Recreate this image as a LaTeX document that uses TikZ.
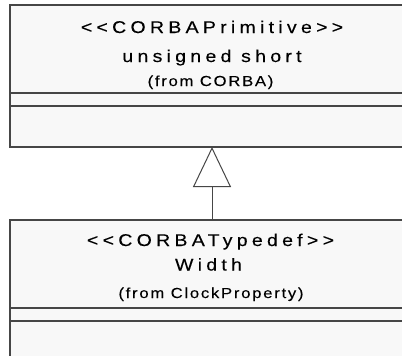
\documentclass[tikz,border=0pt]{standalone}
\usepackage{fontspec}
\setmainfont{Liberation Sans}
\newfontfamily\umlbig[FakeStretch=1.15, FakeBold=0.2, LetterSpace=25]{Liberation Sans}
\newfontfamily\umlsmall[FakeStretch=1.15, FakeBold=0.15, LetterSpace=12]{Liberation Sans}
\usepackage{tikz}
\usetikzlibrary{arrows.meta,positioning}
\definecolor{umlfill}{RGB}{248,248,248}
\definecolor{umlline}{RGB}{70,70,70}
\tikzset{
	classbox/.style={draw=umlline, fill=umlfill, line width=1.2pt, inner sep=0, outer sep=0, minimum width=400, anchor=north west},
	bigtext/.style={anchor=base, inner sep=0, font=\umlbig\fontsize{17}{20}\selectfont},
	smalltext/.style={anchor=base, inner sep=0, font=\umlsmall\fontsize{14.5}{17}\selectfont},
	inherit/.style={draw=umlline, line width=1pt, -{Triangle[length=40pt, width=38pt, fill=white]}}
}

\begin{document}
\begin{tikzpicture}[x=1pt,y=-1pt]
	\fill[white] (0,0) rectangle (402,356);
	\useasboundingbox (0,0) rectangle (402,356);
	% CORBA primitive
	\node[classbox, minimum height=88] (primname) at (10,5) {};
	\node[classbox, minimum height=13] (primattr) at (primname.south west) {};
	\node[classbox, minimum height=41] (primops) at (primattr.south west) {};
	\node[bigtext] (primstereo) at (212,33) {<<CORBAPrimitive>>};
	\node[bigtext] (primtitle) at (212,62) {unsigned short};
	\node[smalltext] (primfrom) at (210.5,86) {(from CORBA)};
	% Width typedef
	\node[classbox, minimum height=88] (widthname) at (10,220) {};
	\node[classbox, minimum height=13] (widthattr) at (widthname.south west) {};
	\node[classbox, minimum height=60] (widthops) at (widthattr.south west) {};
	\node[bigtext] (widthstereo) at (210.5,246) {<<CORBATypedef>>};
	\node[bigtext] (widthtitle) at (208.5,270.5) {Width};
	\node[smalltext] (widthfrom) at (211,298) {(from ClockProperty)};
	% generalization
	\draw[inherit] ([xshift=2pt]widthname.north) -- ([xshift=2pt]primops.south);
\end{tikzpicture}
\end{document}
